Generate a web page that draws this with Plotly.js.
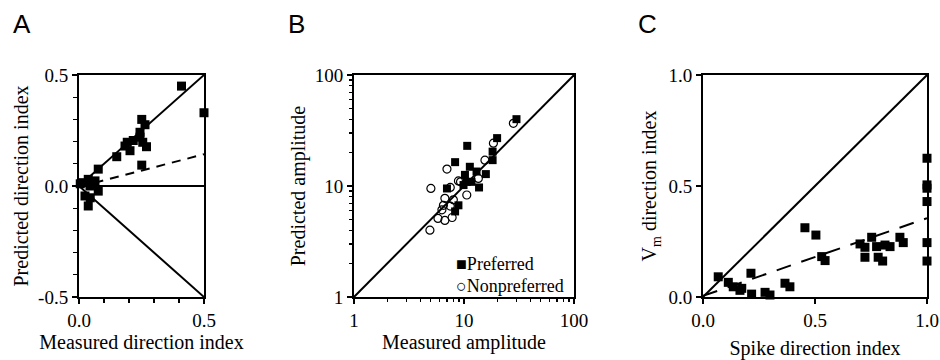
<!DOCTYPE html>
<html>
<head>
<meta charset="utf-8">
<script src="https://cdn.plot.ly/plotly-3.0.1.min.js"></script>
<style>html,body{margin:0;padding:0;background:#fff}#chart{width:940px;height:360px}</style>
</head>
<body>
<div id="chart"></div>
<script>
// ---------- Panel A: measured vs predicted direction index ----------
const aMeasured  = [0.41, 0.5, 0.251, 0.264, 0.244, 0.244, 0.193, 0.217, 0.204, 0.255, 0.27, 0.184, 0.151, 0.251, 0.077, 0.037, 0.017, 0.064, 0.044, 0.077, 0.024, 0.037, 0.045, 0.06, 0.005];
const aPredicted = [0.45, 0.33, 0.30, 0.276, 0.242, 0.22, 0.197, 0.205, 0.159, 0.197, 0.177, 0.18, 0.132, 0.094, 0.076, 0.03, 0.015, 0.023, 0.0, -0.023, -0.045, -0.09, -0.053, 0.02, 0.01];
const aIdentityX = [0, 0.5],  aIdentityY = [0, 0.5];
const aMirrorX   = [0, 0.5],  aMirrorY   = [0, -0.5];
const aZeroX     = [0, 0.5],  aZeroY     = [0, 0];
const aFitX      = [0, 0.5],  aFitY      = [-0.004, 0.143];

// ---------- Panel B: measured vs predicted amplitude ----------
const bPrefMeasured  = [30, 20, 10.7, 18.2, 18.2, 8.3, 11.3, 13.0, 15.8, 10.2, 9.9, 11.7, 13.7, 7.0, 8.9, 8.3, 10.6];
const bPrefPredicted = [40, 27, 23, 20.4, 17.1, 16.4, 14.9, 13.5, 12.8, 12.6, 10.2, 10.9, 9.7, 9.5, 6.7, 5.9, 10.9];
const bNonMeasured   = [28.1, 18.5, 15.5, 7.0, 8.9, 5.0, 7.5, 6.7, 8.0, 7.5, 6.3, 5.8, 6.7, 7.8, 4.9, 10.6, 13.5, 9.3, 6.5];
const bNonPredicted  = [36.7, 24.3, 17.1, 14.2, 11.1, 9.5, 9.7, 7.75, 7.5, 6.6, 6.1, 5.1, 4.9, 5.2, 4.0, 8.3, 11.7, 10.9, 6.7];
const bIdentity = [1, 100];
const bLegend = ["Preferred", "Nonpreferred"];
const bLegendSymbols = ["■", "○"];

// ---------- Panel C: spike vs Vm direction index ----------
const cSpike = [0.068, 0.113, 0.135, 0.173, 0.214, 0.217, 0.165, 0.277, 0.299, 0.366, 0.388, 0.455, 0.504, 0.53, 0.545, 0.701, 0.723, 0.723, 0.753, 0.775, 0.782, 0.802, 0.8125, 0.835, 0.879, 0.894, 1.0, 1.0, 1.0, 1.0, 1.0, 1.0];
const cVm    = [0.091, 0.066, 0.046, 0.039, 0.107, 0.013, 0.03, 0.021, 0.009, 0.062, 0.046, 0.312, 0.279, 0.182, 0.164, 0.239, 0.224, 0.179, 0.269, 0.227, 0.179, 0.162, 0.234, 0.227, 0.269, 0.245, 0.625, 0.505, 0.49, 0.43, 0.245, 0.162];
const cIdentity = [0, 1];
const cFitX = [0, 1], cFitY = [0.005, 0.355];

const panelLetters = ["A", "B", "C"];

const serif = "Liberation Serif, Times New Roman, serif";
const black = "#000";

function lineTrace(x, y, xa, ya, dash, w) {
  return {x: x, y: y, xaxis: xa, yaxis: ya, mode: "lines", type: "scatter",
    line: {color: black, width: w || 2, dash: dash || "solid"}, showlegend: false, hoverinfo: "skip"};
}

const traces = [
  lineTrace(aZeroX, aZeroY, "x", "y"),
  lineTrace(aIdentityX, aIdentityY, "x", "y"),
  lineTrace(aMirrorX, aMirrorY, "x", "y"),
  lineTrace(aFitX, aFitY, "x", "y", "9px,7px"),
  {x: aMeasured, y: aPredicted, xaxis: "x", yaxis: "y", mode: "markers", type: "scatter",
   marker: {symbol: "square", size: 9, color: black}, cliponaxis: false, showlegend: false},

  lineTrace(bIdentity, bIdentity, "x2", "y2"),
  {x: bNonMeasured, y: bNonPredicted, xaxis: "x2", yaxis: "y2", mode: "markers", type: "scatter",
   name: bLegend[1], marker: {symbol: "circle-open", size: 8, color: black, line: {width: 1.2, color: black}},
   cliponaxis: false, showlegend: false},
  {x: bPrefMeasured, y: bPrefPredicted, xaxis: "x2", yaxis: "y2", mode: "markers", type: "scatter",
   name: bLegend[0], marker: {symbol: "square", size: 8, color: black}, cliponaxis: false, showlegend: false},

  lineTrace(cIdentity, cIdentity, "x3", "y3"),
  lineTrace(cFitX, cFitY, "x3", "y3", "15px,11px"),
  {x: cSpike, y: cVm, xaxis: "x3", yaxis: "y3", mode: "markers", type: "scatter",
   marker: {symbol: "square", size: 9, color: black}, cliponaxis: false, showlegend: false}
];

const W = 940, H = 360;
const yDom = [(H - 297) / H, (H - 75) / H];
const tickFont = {family: serif, size: 19, color: black};
const titleFont = {family: serif, size: 20, color: black};

function axisBase(extra) {
  return Object.assign({
    showline: true, mirror: true, linecolor: black, linewidth: 2,
    showgrid: false, zeroline: false, ticks: "outside", ticklen: 5, tickwidth: 1.5, tickcolor: black,
    tickfont: tickFont, automargin: false, fixedrange: true
  }, extra);
}

const legendFont = {family: serif, size: 18, color: black};
const legendAnnotations = [
  {text: bLegendSymbols[0] + bLegend[0], x: 455 / W, y: (H - 275) / H, yanchor: "bottom"},
  {text: bLegendSymbols[1] + bLegend[1], x: 455 / W, y: (H - 275) / H, yanchor: "top"}
].map(a => Object.assign(a, {xref: "paper", yref: "paper", showarrow: false,
  xanchor: "left", borderpad: 0, font: legendFont}));

const layout = {
  width: W, height: H,
  margin: {l: 0, r: 0, t: 0, b: 0},
  paper_bgcolor: "#fff", plot_bgcolor: "#fff",
  showlegend: false,
  xaxis: axisBase({domain: [79 / W, 204 / W], range: [0, 0.5], anchor: "y",
    tickvals: [0, 0.5], ticktext: ["0.0", "0.5"],
    minor: {dtick: 0.1, ticks: "outside", ticklen: 4, tickwidth: 1.2, tickcolor: black},
    title: {text: "Measured direction index", font: titleFont, standoff: 4}}),
  yaxis: axisBase({domain: yDom, range: [-0.5, 0.5], anchor: "x",
    tickvals: [-0.5, 0, 0.5], ticktext: ["-0.5", "0.0", "0.5"],
    minor: {dtick: 0.1, ticks: "outside", ticklen: 4, tickwidth: 1.2, tickcolor: black},
    title: {text: "Predicted direction index", font: titleFont, standoff: 4}}),

  xaxis2: axisBase({domain: [354 / W, 574 / W], type: "log", range: [0, 2], anchor: "y2",
    tickvals: [1, 10, 100], ticktext: ["1", "10", "100"],
    minor: {tickvals: [2,3,4,5,6,7,8,9,20,30,40,50,60,70,80,90], ticks: "outside", ticklen: 3, tickwidth: 1.2, tickcolor: black},
    title: {text: "Measured amplitude", font: titleFont, standoff: 2}}),
  yaxis2: axisBase({domain: yDom, type: "log", range: [0, 2], anchor: "x2",
    tickvals: [1, 10, 100], ticktext: ["1", "10", "100"],
    minor: {tickvals: [2,3,4,5,6,7,8,9,20,30,40,50,60,70,80,90], ticks: "outside", ticklen: 3, tickwidth: 1.2, tickcolor: black},
    title: {text: "Predicted amplitude", font: titleFont, standoff: 4}}),

  xaxis3: axisBase({domain: [703 / W, 927 / W], range: [0, 1], anchor: "y3",
    tickvals: [0, 0.5, 1], ticktext: ["0.0", "0.5", "1.0"],
    title: {text: "Spike direction index", font: titleFont, standoff: 14}}),
  yaxis3: axisBase({domain: yDom, range: [0, 1], anchor: "x3",
    tickvals: [0, 0.5, 1], ticktext: ["0.0", "0.5", "1.0"],
    title: {text: "V<sub>m</sub> direction index", font: titleFont, standoff: 6}}),

  annotations: [
    {text: panelLetters[0], x: 22 / W, y: (H - 24) / H},
    {text: panelLetters[1], x: 296 / W, y: (H - 24) / H},
    {text: panelLetters[2], x: 647 / W, y: (H - 24) / H}
  ].map(a => Object.assign(a, {xref: "paper", yref: "paper", showarrow: false,
    xanchor: "center", yanchor: "middle", font: {family: "Liberation Sans, Arial, sans-serif", size: 26, color: black}}))
    .concat(legendAnnotations)
};

Plotly.newPlot("chart", traces, layout, {staticPlot: true, displayModeBar: false});
</script>
</body>
</html>
